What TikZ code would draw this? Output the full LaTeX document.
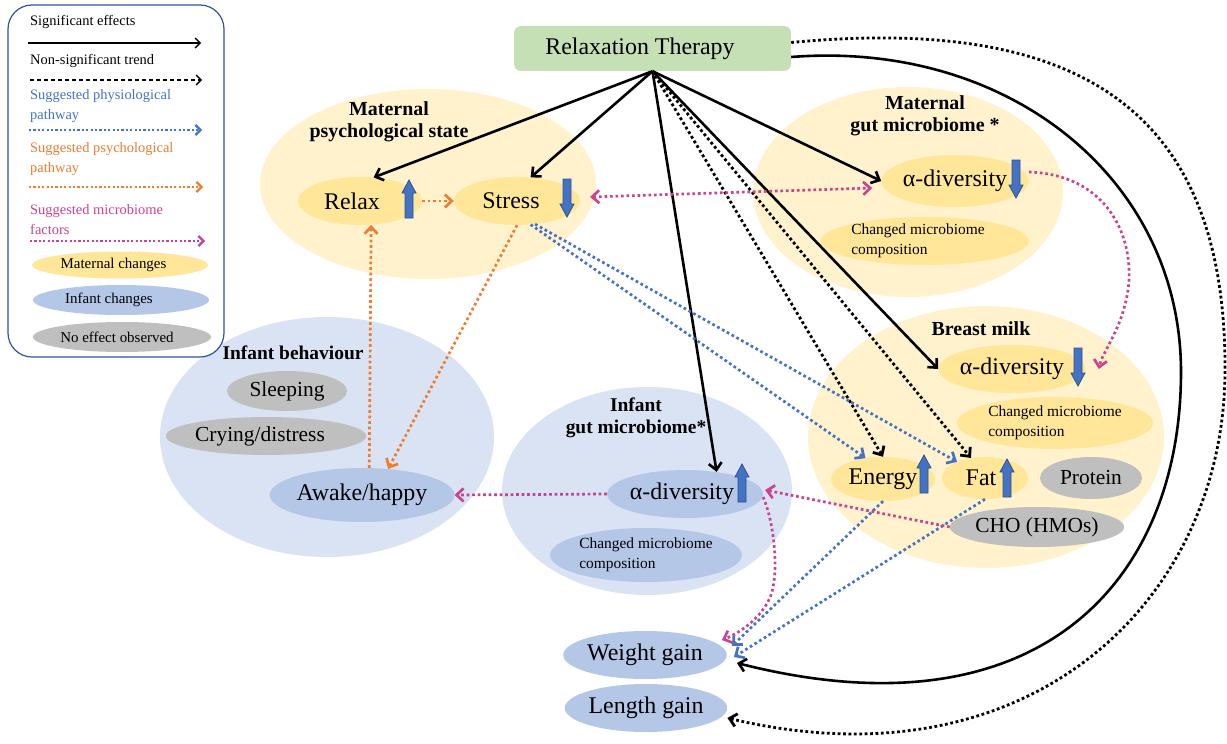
\documentclass[tikz,border=0pt]{standalone}
\usepackage{fontspec}
\setmainfont{Liberation Serif}
\usetikzlibrary{arrows.meta,shapes.geometric}

\definecolor{paleyellow}{HTML}{FFF2CC}
\definecolor{matyellow}{HTML}{FFE699}
\definecolor{paleblue}{HTML}{DAE3F3}
\definecolor{infblue}{HTML}{B4C7E7}
\definecolor{noeffect}{HTML}{BFBFBF}
\definecolor{therapygreen}{HTML}{C5E0B4}
\definecolor{physblue}{HTML}{4472C4}
\definecolor{psychorange}{HTML}{ED7D31}
\definecolor{micromagenta}{HTML}{C8448E}
\definecolor{blockedge}{HTML}{2F528F}
\definecolor{legendedge}{HTML}{2F5597}

\tikzset{
  >={Straight Barb[length=7bp,width=13bp]},
  ell/.style={ellipse, inner sep=0pt},
  lab/.style={font=\fontsize{24}{28}\selectfont},
  glab/.style={font=\fontsize{21.5}{25}\selectfont},
  ttl/.style={font=\fontsize{20}{22.5}\selectfont\bfseries, align=center, inner sep=0pt},
  smalllab/.style={font=\fontsize{15.5}{20}\selectfont, align=left},
  legtxt/.style={font=\fontsize{14.5}{20}\selectfont, anchor=west, align=left, inner sep=0pt},
  legell/.style={ellipse, inner sep=0pt, font=\fontsize{15}{18}\selectfont},
  sigarr/.style={draw=black, line width=2.6bp, ->},
  trendarr/.style={draw=black, line width=2.8bp, dash pattern=on 2.8bp off 2.6bp, ->},
  physarr/.style={draw=physblue, line width=2.7bp, dash pattern=on 2.7bp off 2.8bp, ->},
  psycharr/.style={draw=psychorange, line width=2.7bp, dash pattern=on 2.7bp off 2.8bp, ->},
  microarr/.style={draw=micromagenta, line width=2.7bp, dash pattern=on 2.7bp off 2.8bp, ->},
  legtip/.style={-{Straight Barb[length=5bp,width=10bp]}},
  blockarr/.style={fill=physblue, draw=blockedge, line width=0.8bp},
  uparr/.pic={\path[blockarr] (-4,19) -- (-4,-6) -- (-7,-6) -- (0,-19) -- (7,-6) -- (4,-6) -- (4,19) -- cycle;},
  dnarr/.pic={\path[blockarr] (-4,-19) -- (-4,6) -- (-7,6) -- (0,19) -- (7,6) -- (4,6) -- (4,-19) -- cycle;}
}

\begin{document}
\begin{tikzpicture}[x=1bp, y=-1bp]
\useasboundingbox (0,0) rectangle (1227,744);

% ---------- group backgrounds ----------
\node[ell, fill=paleyellow, minimum width=336bp, minimum height=190bp] (mpsbg) at (428,184) {};
\node[ell, fill=paleyellow, minimum width=310bp, minimum height=210bp] (mgmbg) at (908,192) {};
\node[ell, fill=paleyellow, minimum width=356bp, minimum height=262bp] (bmbg) at (986,437) {};
\node[ell, fill=paleblue, minimum width=334bp, minimum height=240bp] (ibbg) at (327,437) {};
\node[ell, fill=paleblue, minimum width=290bp, minimum height=208bp] (igbg) at (647,491) {};

% ---------- group titles ----------
\node[ttl] (mpst) at (389,122) {Maternal\\psychological state};
\node[ttl] (mgmt) at (925,116) {Maternal\\gut microbiome *};
\node[ttl] (bmt) at (981,329) {Breast milk};
\node[ttl, font=\fontsize{19.5}{22}\selectfont\bfseries] (ibt) at (293,353) {Infant behaviour};
\node[ttl, font=\fontsize{19.5}{22}\selectfont\bfseries] (igt) at (636,418) {Infant\\gut microbiome*};

% ---------- therapy ----------
\node[rectangle, rounded corners=7bp, fill=therapygreen, minimum width=277bp, minimum height=45bp, inner sep=0pt, lab] (rt) at (652.5,48.5) {Relaxation Therapy\hspace*{25bp}};

% ---------- maternal psychological state ----------
\node[ell, fill=matyellow, minimum width=124bp, minimum height=48bp, lab] (relax) at (360,201) {Relax\hspace*{16bp}};
\node[ell, fill=matyellow, minimum width=126bp, minimum height=48bp, lab] (stress) at (517,201) {Stress\hspace*{12bp}};

% ---------- maternal gut microbiome ----------
\node[ell, fill=matyellow, minimum width=126bp, minimum height=52bp, lab] (mad) at (955,181) {α-diversity};
\node[ell, fill=matyellow, minimum width=194bp, minimum height=48bp, smalllab] (mcomp) at (925,241) {Changed microbiome\hspace*{14bp}\\composition};

% ---------- breast milk ----------
\node[ell, fill=matyellow, minimum width=124bp, minimum height=48bp, lab] (bad) at (1012,369) {α-diversity};
\node[ell, fill=matyellow, minimum width=196bp, minimum height=52bp, smalllab] (bcomp) at (1055,423) {Changed microbiome\\composition};
\node[ell, fill=matyellow, minimum width=104bp, minimum height=44bp, lab] (en) at (883,479) {Energy};
\node[ell, fill=matyellow, minimum width=86bp, minimum height=42bp, lab] (fat) at (985,478) {Fat\hspace*{8bp}};
\node[ell, fill=noeffect, minimum width=102bp, minimum height=42bp, glab] (prot) at (1091,478) {Protein};
\node[ell, fill=noeffect, minimum width=148bp, minimum height=40bp, glab] (cho) at (1037,527) {CHO (HMOs)};

% ---------- infant behaviour ----------
\node[ell, fill=noeffect, minimum width=120bp, minimum height=40bp, glab] (sleep) at (287,391) {Sleeping};
\node[ell, fill=noeffect, minimum width=172bp, minimum height=38bp, glab] (cry) at (266,436) {Crying/distress\hspace*{12bp}};
\node[ell, fill=infblue, minimum width=184bp, minimum height=54bp, lab] (awake) at (362,495) {Awake/happy};

% ---------- infant gut microbiome ----------
\node[ell, fill=infblue, minimum width=126bp, minimum height=48bp, lab] (iad) at (685,494) {α-diversity\hspace*{6bp}};
\node[ell, fill=infblue, minimum width=192bp, minimum height=54bp, smalllab] (icomp) at (646,555) {Changed microbiome\\composition};

% ---------- growth ----------
\node[ell, fill=infblue, minimum width=160bp, minimum height=48bp, lab] (wg) at (645,655) {Weight gain};
\node[ell, fill=infblue, minimum width=160bp, minimum height=48bp, lab] (lg) at (646,708) {Length gain};

% ---------- direction of change ----------
\pic at (409,199) {uparr};
\pic at (567,198) {dnarr};
\pic at (1016,179) {dnarr};
\pic at (1078,367) {dnarr};
\pic at (924,474) {uparr};
\pic at (1007,478) {uparr};
\pic at (742,483) {uparr};

% ---------- legend ----------
\node[draw=legendedge, line width=1.2bp, rounded corners=24bp, fill=white, minimum width=216bp, minimum height=352bp, inner sep=0pt] (legend) at (116,181) {};
\node[legtxt] (lsig) at (30,22) {Significant effects};
\node[legtxt] (ltrend) at (30,61) {Non-significant trend};
\node[legtxt, text=physblue] (lphys) at (30,106.5) {Suggested physiological\\pathway};
\node[legtxt, text=psychorange] (lpsych) at (30,159) {Suggested psychological\\pathway};
\node[legtxt, text=micromagenta] (lmicro) at (30,219.5) {Suggested microbiome\\factors};
\coordinate (lsa) at (28,43);  \coordinate (lsb) at (201,43);
\coordinate (lta) at (30,80);  \coordinate (ltb) at (202,80);
\coordinate (lpa) at (29,130); \coordinate (lpb) at (202,130);
\coordinate (loa) at (29,187); \coordinate (lob) at (203,187);
\coordinate (lma) at (30,241); \coordinate (lmb) at (205,241);
\draw[black, line width=1.3bp, legtip] (lsa) -- (lsb);
\draw[black, line width=1.3bp, dash pattern=on 4bp off 3bp, legtip] (lta) -- (ltb);
\draw[physblue, line width=2.2bp, dash pattern=on 2.2bp off 2.2bp, legtip] (lpa) -- (lpb);
\draw[psychorange, line width=2.2bp, dash pattern=on 2.2bp off 2.2bp, legtip] (loa) -- (lob);
\draw[micromagenta, line width=2.2bp, dash pattern=on 2.2bp off 2.2bp, legtip] (lma) -- (lmb);
\node[legell, fill=matyellow, minimum width=176bp, minimum height=27bp] (lgm) at (120,265) {Maternal changes\hspace*{13bp}};
\node[legell, fill=infblue, minimum width=176bp, minimum height=30bp] (lgi) at (121,300) {Infant changes\hspace*{24bp}};
\node[legell, fill=noeffect, minimum width=178bp, minimum height=30bp] (lgn) at (122,337) {No effect observed\hspace*{10bp}};

% ---------- effects of the therapy ----------
\draw[sigarr] (rt.south) -- (relax.60);
\draw[sigarr] (rt.south) -- (stress.60);
\draw[sigarr] (rt.south) -- (iad.35);
\draw[sigarr] (rt.south) -- (mad.west);
\draw[sigarr] (rt.south) -- (bad.west);
\draw[trendarr] (rt.south) -- (en.north);
\draw[trendarr] (rt.south) -- (fat.125);
\draw[sigarr] ([yshift=-8.5bp]rt.east) .. controls (1010,40) and (1181,180) .. (1181,372)
  .. controls (1181,580) and (1040,740) .. ([xshift=10bp,yshift=-8bp]wg.east);
\draw[trendarr] ([yshift=6bp]rt.east) .. controls (1080,15) and (1226,110) .. (1225,370)
  .. controls (1225,600) and (1030,790) .. ([yshift=-10bp]lg.east);

% ---------- psychological pathway ----------
\draw[psycharr] (relax.east) -- (stress.west);
\draw[psycharr] (awake.75) -- (relax.-65);
\draw[psycharr] (stress.south) -- (awake.45);

% ---------- physiological pathway ----------
\draw[physarr] (stress.-60) -- (en.130);
\draw[physarr] (stress.-52) -- (fat.150);
\draw[physarr] (en.south) -- ([xshift=5bp,yshift=9bp]wg.east);
\draw[physarr] (fat.south) -- ([xshift=7bp,yshift=-2bp]wg.east);

% ---------- microbiome factors ----------
\draw[microarr, <->] ([xshift=10bp,yshift=4bp]stress.east) -- ([xshift=-9bp,yshift=-7bp]mad.west);
\draw[microarr] ([yshift=9bp]mad.east) .. controls (1110,175) and (1135,240) .. (1128,290)
  .. controls (1122,330) and (1102,352) .. ([xshift=13bp]bad.east);
\draw[microarr] (iad.west) -- (awake.east);
\draw[microarr] (cho.west) -- ([xshift=2bp,yshift=4bp]iad.east);
\draw[microarr] ([yshift=-3bp]iad.east) .. controls (775,525) and (778,570) .. (772,592)
  .. controls (765,615) and (742,632) .. ([xshift=-5bp,yshift=15bp]wg.east);

\end{tikzpicture}
\end{document}
